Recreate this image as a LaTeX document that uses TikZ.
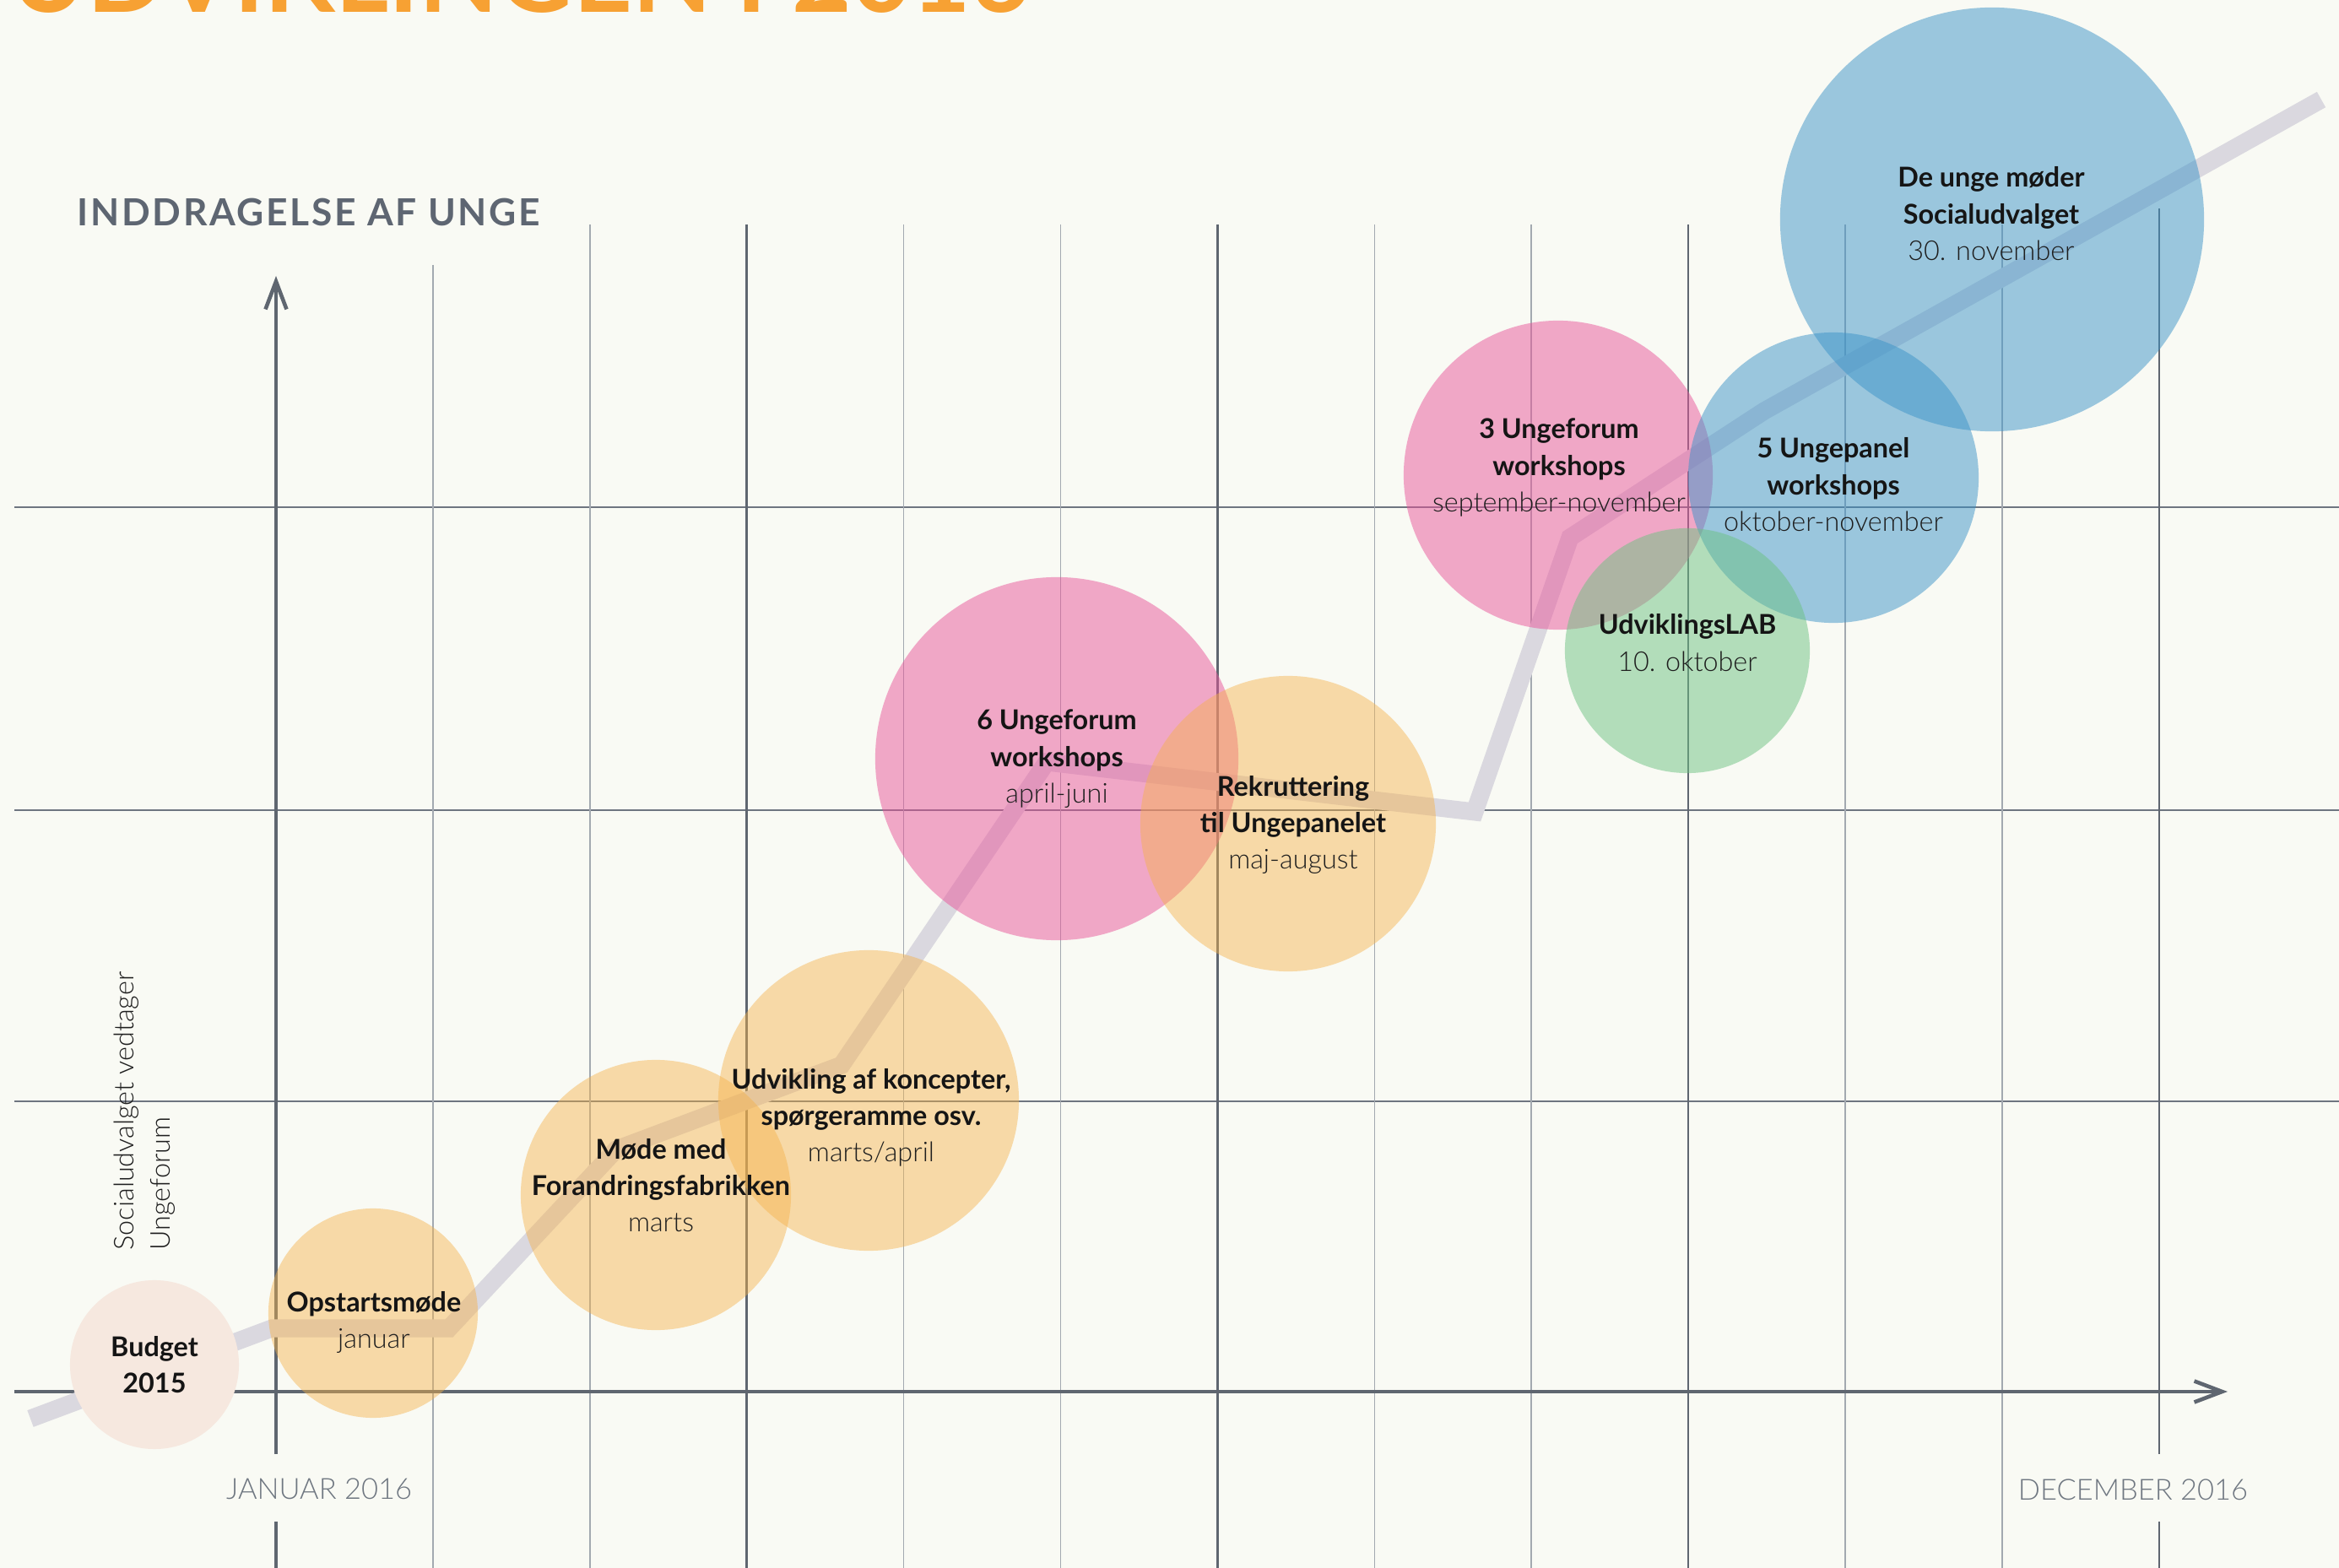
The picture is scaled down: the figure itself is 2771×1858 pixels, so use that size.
\documentclass[tikz,border=0pt]{standalone}
\usepackage{fontspec}
\setmainfont{Lato}
\IfFontExistsTF{Lato Light}{\newfontfamily\lightfont{Lato Light}}{\newfontfamily\lightfont{Lato}}
\usetikzlibrary{arrows.meta}
\definecolor{bg}{HTML}{F9FAF4}
\definecolor{titleorange}{HTML}{F7A133}
\definecolor{axisgray}{HTML}{5E6672}
\definecolor{gridthin}{HTML}{A3A9B0}
\definecolor{griddark}{HTML}{5F6670}
\definecolor{hgrid}{HTML}{6E7580}
\definecolor{monthgray}{HTML}{6F7781}
\definecolor{pathgray}{HTML}{DAD8DF}
\definecolor{budgetfill}{HTML}{F6E8DF}
\definecolor{orangeC}{HTML}{F5B24A}
\definecolor{pinkC}{HTML}{E8559A}
\definecolor{blueC}{HTML}{3C94C8}
\definecolor{greenC}{HTML}{6CC282}
\definecolor{textdark}{HTML}{151515}
\definecolor{textlight}{HTML}{1E1E1E}
\newcommand{\bt}[1]{{\bfseries\color{textdark}#1}}
\newcommand{\lt}[1]{{\lightfont\color{textlight}#1}}
\tikzset{
  thinv/.style={draw=gridthin, line width=0.43pt},
  darkv/.style={draw=griddark, line width=0.72pt},
  hline/.style={draw=hgrid, line width=0.5pt},
  axisline/.style={draw=griddark, line width=1.3pt},
  axistip/.style={-{Straight Barb[length=0.33cm, width=0.25cm, line width=1.3pt]}},
  trend/.style={draw=pathgray, line width=0.21cm, line join=miter, line cap=butt},
  bubble/.style={circle, inner sep=0pt, draw=none},
  obub/.style={bubble, fill=orangeC, fill opacity=0.45},
  pbub/.style={bubble, fill=pinkC, fill opacity=0.5},
  bbub/.style={bubble, fill=blueC, fill opacity=0.5},
  gbub/.style={bubble, fill=greenC, fill opacity=0.5},
  lbl/.style={anchor=base, inner sep=0pt, font=\fontsize{9.2pt}{12.25pt}\selectfont},
  month/.style={anchor=base, inner sep=0pt, text=monthgray, font=\fontsize{9.8pt}{12pt}\lightfont},
}
\begin{document}
\begin{tikzpicture}[x=0.01cm, y=-0.01cm]
\clip (0,0) rectangle (2771,1858);
\fill[bg] (0,0) rectangle (2771,1858);
\useasboundingbox (0,0) rectangle (2771,1858);

% title (cut off at top, as in the reference)
\node[anchor=base west, inner sep=0pt, text=titleorange] (title) at (12,15)
  {\resizebox{12.07cm}{!}{\bfseries UDVIKLINGEN I 2016}};

% y label
\node[anchor=base west, inner sep=0pt, text=axisgray,
  font=\fontsize{12.6pt}{14pt}\selectfont\bfseries\addfontfeatures{LetterSpace=6}] (ylabel) at (91,268) {INDDRAGELSE AF UNGE};

% grid: horizontal lines
\foreach \yy in {601,960,1305} \draw[hline] (17,\yy) -- (2771,\yy);
% grid: vertical lines
\draw[thinv] (512.9,314) -- (512.9,1858);
\foreach \i in {2,4,5,7,8,10,11} \draw[thinv] ({327+185.9*\i},266) -- ({327+185.9*\i},1858);
\foreach \i in {3,6,9} \draw[darkv] ({327+185.9*\i},266) -- ({327+185.9*\i},1858);
\draw[darkv] (2558,247) -- (2558,1723);
\draw[darkv] (2558,1803) -- (2558,1858);

% axes
\draw[axisline, axistip] (327,1723) -- (327,327);
\draw[axisline] (327,1803) -- (327,1858);
\draw[axisline, axistip] (17,1649) -- (2639,1649);

% month labels
\node[month] (jan) at (378,1776) {JANUAR 2016};
\node[month] (dec) at (2527,1777) {DECEMBER 2016};

% rotated note
\node[anchor=base west, rotate=90, inner sep=0pt, text=textlight,
  font=\fontsize{9.2pt}{12pt}\lightfont] (note1) at (158,1482) {Socialudvalget vedtager};
\node[anchor=base west, rotate=90, inner sep=0pt, text=textlight,
  font=\fontsize{9.2pt}{12pt}\lightfont] (note2) at (201,1482) {Ungeforum};

% trend path
\coordinate (p0) at (36,1681);
\coordinate (p1) at (322,1574);
\coordinate (p2) at (532,1574);
\coordinate (p3) at (730,1362);
\coordinate (p4) at (997,1262);
\coordinate (p5) at (1240,903);
\coordinate (p6) at (1747,962);
\coordinate (p7) at (1860,637);
\coordinate (p8) at (2090,487);
\coordinate (p9) at (2750,118);
\draw[trend] (p0) -- (p1) -- (p2) -- (p3) -- (p4) -- (p5) -- (p6) -- (p7) -- (p8) -- (p9);

% bubbles
\node[bubble, fill=budgetfill, minimum size=2.00cm] (budget) at (183,1617) {};
\node[obub, minimum size=2.48cm] (opstart) at (442,1556) {};
\node[obub, minimum size=3.20cm] (mode) at (777,1416) {};
\node[obub, minimum size=3.56cm] (udvikling) at (1029,1304) {};
\node[pbub, minimum size=4.30cm] (ufsix) at (1252,899) {};
\node[obub, minimum size=3.50cm] (rekrut) at (1526,976) {};
\node[pbub, minimum size=3.66cm] (ufthree) at (1846,563) {};
\node[bbub, minimum size=3.44cm] (upfive) at (2172,566) {};
\node[gbub, minimum size=2.90cm] (lab) at (1999,771) {};
\node[bbub, minimum size=5.02cm] (mode2) at (2360,260) {};

% labels
\node[lbl] (tbudget) at (183,1607) {\begin{tabular}[t]{@{}c@{}}\bt{Budget}\\\bt{2015}\end{tabular}};
\node[lbl] (topstart) at (443,1554) {\begin{tabular}[t]{@{}c@{}}\bt{Opstartsmøde}\\\lt{januar}\end{tabular}};
\node[lbl] (tmode) at (783,1373) {\begin{tabular}[t]{@{}c@{}}\bt{Møde med}\\\bt{Forandringsfabrikken}\\\lt{marts}\end{tabular}};
\node[lbl] (tudvikling) at (1032,1290) {\begin{tabular}[t]{@{}c@{}}\bt{Udvikling af koncepter,}\\\bt{spørgeramme osv.}\\\lt{marts/april}\end{tabular}};
\node[lbl] (tufsix) at (1252,865) {\begin{tabular}[t]{@{}c@{}}\bt{6 Ungeforum}\\\bt{workshops}\\\lt{april-juni}\end{tabular}};
\node[lbl] (trekrut) at (1532,943) {\begin{tabular}[t]{@{}c@{}}\bt{Rekruttering}\\\bt{til Ungepanelet}\\\lt{maj-august}\end{tabular}};
\node[lbl] (tufthree) at (1847,520) {\begin{tabular}[t]{@{}c@{}}\bt{3 Ungeforum}\\\bt{workshops}\\\lt{september-november}\end{tabular}};
\node[lbl] (tupfive) at (2172,543) {\begin{tabular}[t]{@{}c@{}}\bt{5 Ungepanel}\\\bt{workshops}\\\lt{oktober-november}\end{tabular}};
\node[lbl] (tlab) at (1999,752) {\begin{tabular}[t]{@{}c@{}}\bt{UdviklingsLAB}\\\lt{10. oktober}\end{tabular}};
\node[lbl] (tmode2) at (2359,222) {\begin{tabular}[t]{@{}c@{}}\bt{De unge møder}\\\bt{Socialudvalget}\\\lt{30. november}\end{tabular}};
\end{tikzpicture}
\end{document}
